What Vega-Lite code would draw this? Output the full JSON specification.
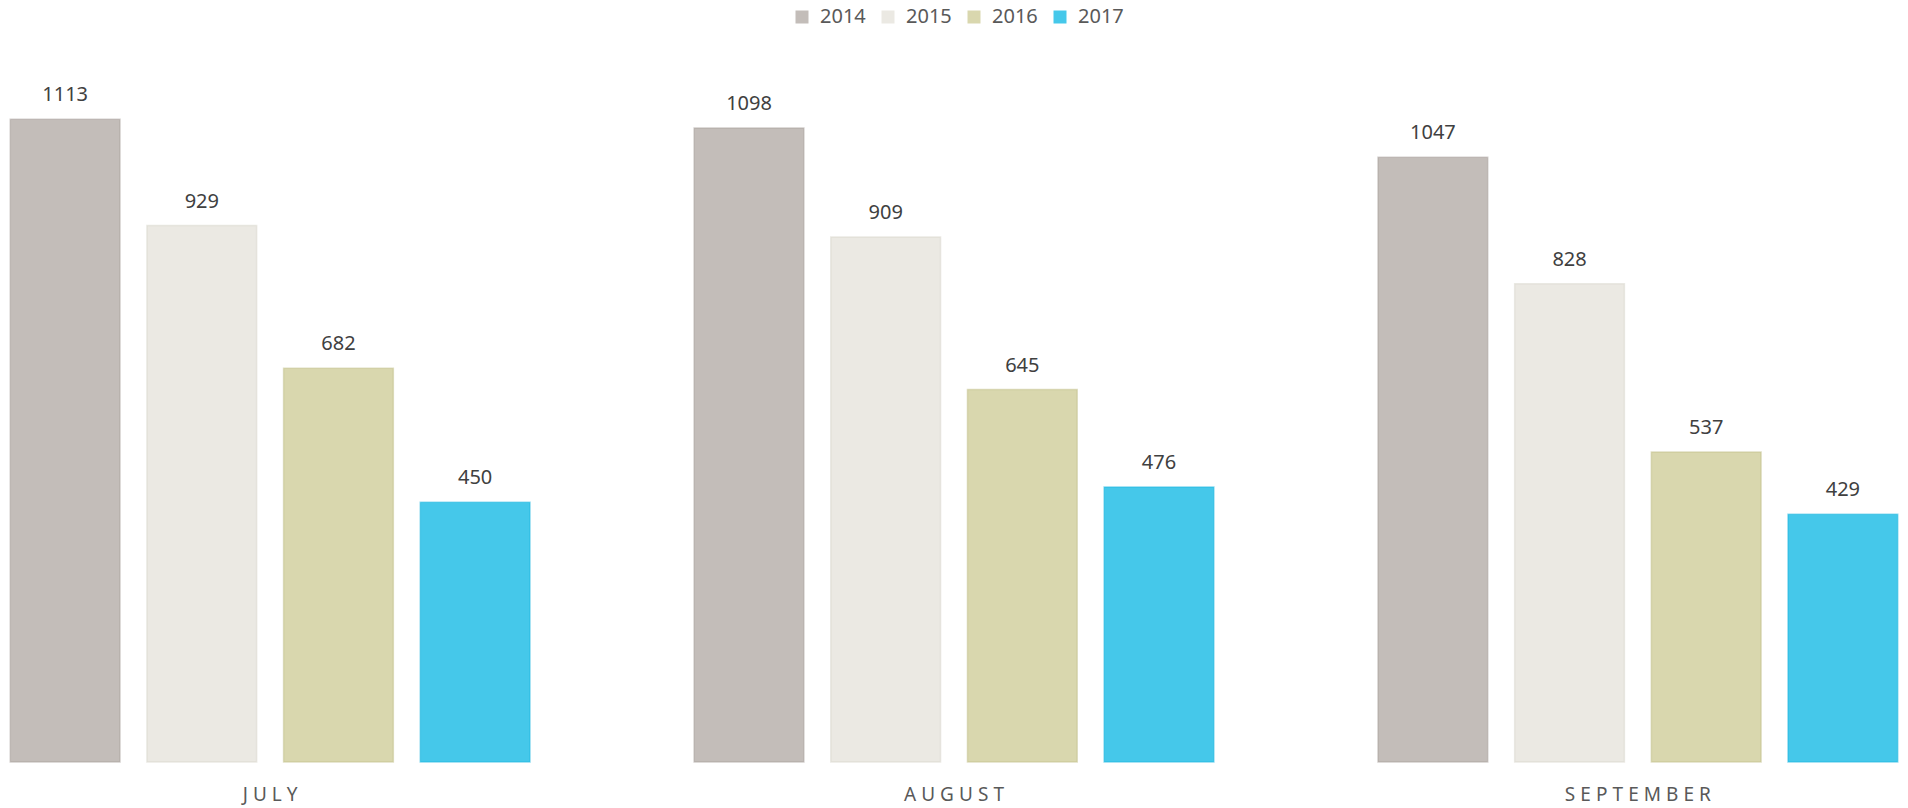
{
  "$schema": "https://vega.github.io/schema/vega-lite/v6.json",
  "width": 1908,
  "height": 693,
  "autosize": {"type": "none"},
  "padding": {"left": 0, "right": 0, "top": 69, "bottom": 46},
  "background": "white",
  "config": {"view": {"stroke": null}, "font": "Noto Sans"},
  "data": {
    "values": [
      {"month": "JULY", "year": "2014", "value": 1113},
      {"month": "JULY", "year": "2015", "value": 929},
      {"month": "JULY", "year": "2016", "value": 682},
      {"month": "JULY", "year": "2017", "value": 450},
      {"month": "AUGUST", "year": "2014", "value": 1098},
      {"month": "AUGUST", "year": "2015", "value": 909},
      {"month": "AUGUST", "year": "2016", "value": 645},
      {"month": "AUGUST", "year": "2017", "value": 476},
      {"month": "SEPTEMBER", "year": "2014", "value": 1047},
      {"month": "SEPTEMBER", "year": "2015", "value": 828},
      {"month": "SEPTEMBER", "year": "2016", "value": 537},
      {"month": "SEPTEMBER", "year": "2017", "value": 429}
    ]
  },
  "encoding": {
    "x": {
      "field": "month", "type": "nominal",
      "sort": ["JULY", "AUGUST", "SEPTEMBER"],
      "scale": {"paddingInner": 0.24, "paddingOuter": 0.015},
      "axis": {
        "title": null, "domain": false, "ticks": false, "labelAngle": 0,
        "labelFontSize": 19, "labelColor": "#595959", "labelPadding": 23,
        "labelExpr": "join(split(datum.label, ''), '\u2009\u200a')"
      }
    },
    "xOffset": {
      "field": "year", "type": "nominal",
      "scale": {"paddingInner": 0.197, "paddingOuter": 0}
    },
    "y": {
      "field": "value", "type": "quantitative",
      "scale": {"domain": [0, 1200], "nice": false},
      "axis": null
    }
  },
  "layer": [
    {
      "mark": {"type": "bar", "strokeWidth": 1.5, "strokeOpacity": 0.5},
      "encoding": {
        "color": {
          "field": "year", "type": "nominal",
          "scale": {"domain": ["2014", "2015", "2016", "2017"], "range": ["#c3bdb9", "#ebe9e3", "#d9d7ae", "#45c8ea"]},
          "legend": {
            "title": null, "orient": "none", "direction": "horizontal",
            "legendX": 792, "legendY": -62,
            "symbolType": "square", "symbolSize": 169, "symbolStrokeWidth": 0,
            "labelFontSize": 20, "labelColor": "#595959", "labelOffset": 8,
            "columnPadding": 12, "padding": 0
          }
        },
        "stroke": {
          "field": "year", "type": "nominal",
          "scale": {"domain": ["2014", "2015", "2016", "2017"], "range": ["#a8a09b", "#d8d5cc", "#c2bf8a", "#1cb6e0"]},
          "legend": null
        }
      }
    },
    {
      "mark": {"type": "text", "dy": -18, "baseline": "alphabetic", "fontSize": 20, "color": "#404040"},
      "encoding": {"text": {"field": "value", "type": "quantitative"}}
    }
  ]
}
